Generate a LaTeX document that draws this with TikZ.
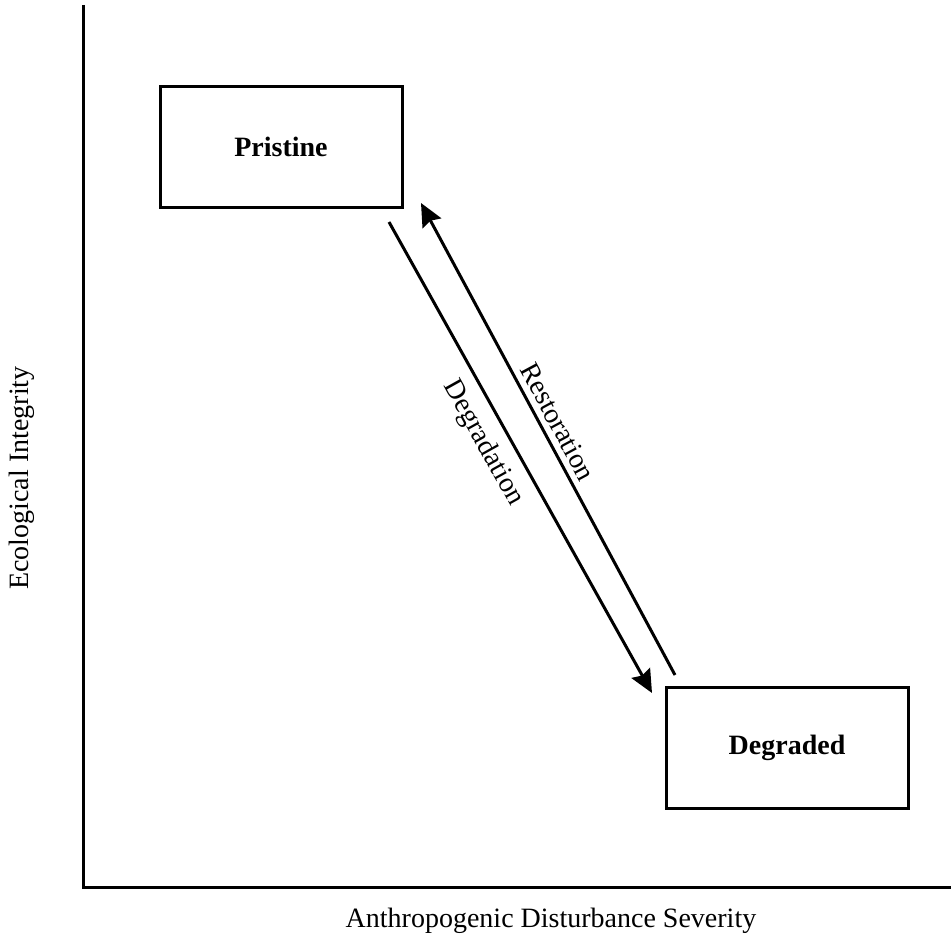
\documentclass[tikz,border=0pt]{standalone}
\usepackage{fontspec}
\setmainfont{Liberation Serif}
\usetikzlibrary{arrows.meta}
\begin{document}
\begin{tikzpicture}[x=1pt,y=-1pt,
  txt/.style={font=\fontsize{28}{32}\selectfont, inner sep=0pt},
  box/.style={draw=black, line width=3pt, minimum width=242pt, minimum height=121pt, inner sep=0pt, font=\fontsize{28}{32}\selectfont\bfseries},
  axis/.style={line width=3pt},
  flow/.style={line width=3pt, -{Stealth[length=23pt,width=21pt,inset=3pt]}}]
\useasboundingbox (0,0) rectangle (951,941);
% axes
\coordinate (ytop) at (83,5);
\coordinate (origin) at (83,887);
\coordinate (xend) at (951,887);
\draw[axis] (ytop) -- (origin) -- (xend);
% boxes
\node[box] (pristine) at (281,147) {Pristine};
\node[box] (degraded) at (787,748) {Degraded};
% arrows
\coordinate (dstart) at (389,222);
\coordinate (dend) at (652,693);
\coordinate (rstart) at (675,675);
\coordinate (rend) at (421,203);
\draw[flow] (dstart) -- (dend);
\draw[flow] (rstart) -- (rend);
% labels
\node[txt, rotate=-60.8] (deglab) at (483,443) {Degradation};
\node[txt, rotate=-61.7] (reslab) at (558,422) {Restoration};
\node[txt] (xlab) at (551,921) {Anthropogenic Disturbance Severity};
\node[txt, rotate=90] (ylab) at (22,478) {Ecological Integrity};
\end{tikzpicture}
\end{document}
